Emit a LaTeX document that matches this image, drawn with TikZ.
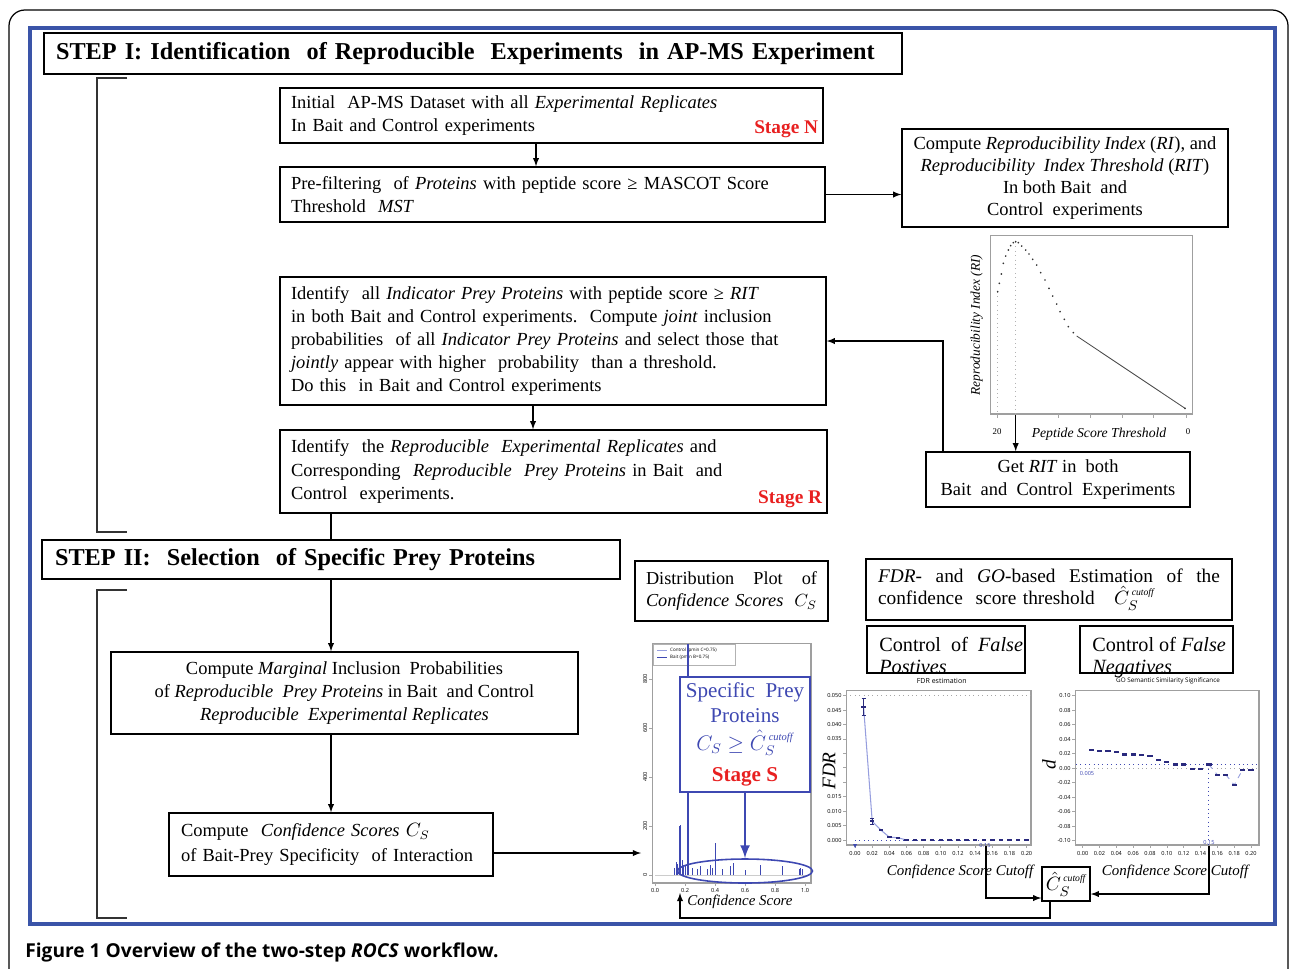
\documentclass[tikz,border=0pt]{standalone}
\usepackage{amsmath, amssymb}
\usepackage{fontspec}
\setmainfont{Liberation Serif}
\newfontfamily\capfont{Open Sans}
\usepackage{tikz}
\usetikzlibrary{arrows}
\usetikzlibrary{calc}
\usetikzlibrary{shapes.geometric}
\definecolor{framebl}{RGB}{58,84,168}
\definecolor{stagered}{RGB}{232,32,32}
\definecolor{plotbl}{RGB}{62,72,178}
\definecolor{markbl}{RGB}{42,42,125}
\definecolor{linebl}{RGB}{150,158,222}
\newcommand{\cscut}{\hat{C}_S^{\,\scriptscriptstyle\mathit{cutoff}}}
\newcommand{\ticksize}{\capfont\fontsize{3.2}{3.6}\selectfont}

\begin{document}
\begin{tikzpicture}[
    x=0.02cm, y=-0.02cm,
    box/.style={draw, line width=0.9pt, inner sep=0pt, font=\fontsize{10.5}{13.2}\selectfont},
    leftbox/.style={box, align=left, inner xsep=0.22cm},
    ctrbox/.style={box, align=center},
    stepbox/.style={draw, line width=1.3pt, inner sep=0pt, inner xsep=0.24cm, align=left, font=\fontsize{13.8}{16}\selectfont\bfseries},
    stage/.style={text=stagered, font=\fontsize{11}{13}\selectfont\bfseries, inner sep=3pt},
    conn/.style={->, >=latex, line width=0.6pt},
    plotframe/.style={draw=gray!75, line width=0.6pt, inner sep=0pt},
    bracket/.style={line width=0.7pt, black!80},
    tick/.style={inner sep=0.6pt, font=\ticksize},
    axlabel/.style={inner sep=0pt, font=\fontsize{8.5}{10}\selectfont\itshape},
    markfill/.style={markbl}
    ]

    \useasboundingbox (0,0) rectangle (1290,968);
    \clip (0,0) rectangle (1290,968);

    % frames
    \draw[line width=0.7pt, rounded corners=9pt] (9,1000) -- (9,10) -- (1288,10) -- (1288,1000);
    \draw[framebl, line width=2.2pt] (30,28) rectangle (1275,924);

    % helper coordinates for connectors
    \coordinate (xa) at (536,0);
    \coordinate (xb) at (533,0);
    \coordinate (xc) at (331,0);
    \coordinate (xri) at (1015.7,0);
    \coordinate (xgr) at (943,0);
    \coordinate (xfdr) at (986,0);
    \coordinate (xgo) at (1209,0);
    \coordinate (yfdr) at (0,898);
    \coordinate (ygo) at (0,894);
    \coordinate (xch) at (1050,0);
    \coordinate (ybot) at (0,918);
    \coordinate (xdist) at (680,0);
    \coordinate (distin) at (680,893);
    \coordinate (ycs) at (0,853);
    \coordinate (csend) at (641,853);

    % STEP I
    \node[stepbox, minimum width=17.16cm, minimum height=0.82cm, text width=16.68cm] (step1) at (473,53.5)
        {STEP I: Identification\ \ of Reproducible\ \ Experiments\ \ in AP-MS Experiment};
    \draw[bracket] (127,78) -- (97,78) -- (97,532) -- (127,532);

    \node[leftbox, minimum width=10.86cm, minimum height=1.1cm, text width=10.42cm] (n1) at (551.5,115.5)
        {Initial\ \ AP-MS Dataset with all \textit{Experimental Replicates}\\In Bait and Control experiments};
    \node[stage, anchor=south east] (stgn) at (n1.south east) {Stage N};

    \node[leftbox, minimum width=10.9cm, minimum height=1.1cm, text width=10.46cm] (n2) at (552.5,194.5)
        {Pre-filtering\ \ of \textit{Proteins} with peptide score ≥ MASCOT Score\\Threshold\ \ \textit{MST}};

    \node[ctrbox, minimum width=6.52cm, minimum height=1.96cm, font=\fontsize{10.5}{12.5}\selectfont] (ri) at (1065,178)
        {Compute \textit{Reproducibility Index} (\textit{RI}), and\\\textit{Reproducibility\ \ Index Threshold} (\textit{RIT})\\In both Bait\ \ and\\Control\ \ experiments};

    \node[leftbox, minimum width=10.92cm, minimum height=2.56cm, text width=10.48cm] (ind) at (553,341)
        {Identify\ \ all \textit{Indicator Prey Proteins} with peptide score ≥ \textit{RIT}\\in both Bait and Control experiments.\ \ Compute \textit{joint} inclusion\\probabilities\ \ of all \textit{Indicator Prey Proteins} and select those that\\\textit{jointly} appear with higher\ \ probability\ \ than a threshold.\\Do this\ \ in Bait and Control experiments};

    \node[leftbox, minimum width=10.94cm, minimum height=1.66cm, text width=10.5cm] (rep) at (553.5,471.5)
        {Identify\ \ the \textit{Reproducible\ \ Experimental Replicates} and\\Corresponding\ \ \textit{Reproducible\ \ Prey Proteins} in Bait\ \ and\\Control\ \ experiments.};
    \node[stage, anchor=south east] (stgr) at (rep.south east) {Stage R};

    \node[ctrbox, minimum width=5.28cm, minimum height=1.1cm] (getrit) at (1058,479.5)
        {Get \textit{RIT} in\ \ both\\Bait\ \ and\ \ Control\ \ Experiments};

    % RI plot
    \node[plotframe, minimum width=4.03cm, minimum height=3.58cm] (riplot) at (1091.35,324.5) {};
    \draw[gray!60, dotted, line width=0.5pt] (997.7,292) -- (997.7,414);
    \draw[gray!60, dotted, line width=0.5pt] (1015.7,242) -- (1015.7,414);
    \foreach \a in {997.7,1015.7,1058,1090,1122,1153,1186}
        \draw[gray!70, line width=0.4pt] (\a,414) -- (\a,418);
    \foreach \a/\b in {997.7/291.7, 999.3/283.3, 1001.3/274, 1003.3/263.3, 1005.7/256, 1008.3/250,
        1010.7/245.7, 1013.3/242.7, 1015.7/241.7, 1018.3/242.7, 1021.7/246, 1025.7/250, 1029/254,
        1032.7/259.3, 1036.7/265, 1040.7/272.7, 1045/280, 1049/288.3, 1052.7/296, 1056.7/304,
        1060/311.7, 1064.3/319.3, 1068.3/326.7, 1073.3/332.7, 1185/408.3}
        \fill[black!80] (\a,\b) circle[radius=0.55pt];
    \draw[black!70, line width=0.5pt] (1076.7,336) -- (1185,408.3);
    \node[rotate=90, font=\fontsize{7.6}{9}\selectfont\itshape, inner sep=0pt] (riy) at (976.7,325) {Reproducibility Index (RI)};
    \node[font=\fontsize{7.8}{9}\selectfont\itshape, inner sep=0pt] (rix) at (1099,434) {Peptide Score Threshold};
    \node[font=\fontsize{5}{6}\selectfont, inner sep=0pt] (ri20) at (997,432) {20};
    \node[font=\fontsize{5}{6}\selectfont, inner sep=0pt] (ri0) at (1188,432) {0};

    % STEP I connectors
    \draw[conn] (n1.south -| xa) -- (n2.north -| xa);
    \draw[conn] (n2.east) -- (n2.east -| ri.west);
    \draw[conn] (riplot.south -| xri) -- (getrit.north -| xri);
    \draw[conn] (getrit.north -| xgr) |- (ind.east);
    \draw[conn] (ind.south -| xb) -- (rep.north -| xb);

    % STEP II
    \node[stepbox, minimum width=11.56cm, minimum height=0.78cm, inner xsep=0.26cm, text width=11.04cm] (step2) at (331,559.5)
        {STEP II:\ \ Selection\ \ of Specific Prey Proteins};
    \draw[bracket] (127,590) -- (97,590) -- (97,918) -- (127,918);
    \draw[line width=0.6pt] (rep.south -| xc) -- (step2.north -| xc);

    \node[ctrbox, minimum width=9.34cm, minimum height=1.64cm] (marg) at (344.5,693)
        {Compute \textit{Marginal} Inclusion\ \ Probabilities\\of \textit{Reproducible\ \ Prey Proteins} in Bait\ \ and Control\\\textit{Reproducible\ \ Experimental Replicates}};

    \node[leftbox, minimum width=6.48cm, minimum height=1.26cm, inner xsep=0.24cm, text width=6cm, font=\fontsize{10.5}{14}\selectfont] (cs) at (331,844.5)
        {Compute\ \ \textit{Confidence Scores} $C_S$\\of Bait-Prey Specificity\ \ of Interaction};

    \draw[conn] (step2.south -| xc) -- (marg.north -| xc);
    \draw[conn] (marg.south -| xc) -- (cs.north -| xc);
    \draw[conn] (cs.east |- ycs) -- (csend);

    % distribution plot
    \node[leftbox, minimum width=3.86cm, minimum height=1.2cm, text width=3.42cm, font=\fontsize{10.4}{12.5}\selectfont] (dist) at (731.5,591)
        {Distribution\hfill Plot\hfill of\\\textit{Confidence Scores}\hfill $C_S$};
    \node[plotframe, minimum width=3.18cm, minimum height=4.8cm] (distplot) at (731.5,763) {};
    \draw[gray!40, line width=0.4pt] (655,875) -- (808,875);
    \draw[gray!60, line width=0.4pt] (653,644) rectangle (735,665);
    \draw[linebl, line width=0.5pt] (657,650) -- (667,650);
    \draw[plotbl, line width=0.5pt] (657,657) -- (667,657);
    \node[anchor=west, inner sep=0.5pt, font=\capfont\fontsize{2.6}{3}\selectfont] (legc) at (669,650) {Control (pmin C=0.75)};
    \node[anchor=west, inner sep=0.5pt, font=\capfont\fontsize{2.6}{3}\selectfont] (legb) at (669,657) {Bait (pmin B=0.75)};
    \foreach \v [count=\i] in {0,200,400,600,800} {
        \draw[gray!70, line width=0.4pt] (652,{875-\v*0.245}) -- (649,{875-\v*0.245});
        \node[tick, rotate=90] (dy\i) at (645,{875-\v*0.245}) {\v};
    }
    \foreach \v [count=\i] in {0.0,0.2,0.4,0.6,0.8,1.0} {
        \draw[gray!70, line width=0.4pt] ({655+150*\v},883) -- ({655+150*\v},886);
        \node[tick] (dx\i) at ({655+150*\v},890) {\v};
    }
    \foreach \v/\h in {0.13/30, 0.14/55, 0.15/45, 0.16/200, 0.17/205, 0.18/60, 0.19/40, 0.2/35,
        0.22/25, 0.25/30, 0.28/25, 0.3/35, 0.35/25, 0.37/40, 0.38/30, 0.4/130, 0.45/25,
        0.5/35, 0.52/50, 0.6/20, 0.7/40, 0.85/35, 0.96/25, 0.97/30, 0.98/25}
        \draw[plotbl, line width=0.5pt] ({655+150*\v},875) -- ++(0,{-\h*0.245});
    \draw[plotbl, line width=0.6pt] (688,644) -- (688,875);
    \node[axlabel] (distx) at (740,902) {Confidence Score};

    % stage S
    \node[draw=plotbl, line width=1.6pt, fill=white, minimum width=2.6cm, minimum height=2.3cm, inner sep=0pt,
        align=center, text=plotbl, font=\fontsize{12}{14}\selectfont] (sbox) at (745,734.5)
        {Specific\ \ Prey\\Proteins\\[2pt]$C_S \geq \cscut$\\[4pt]{\color{stagered}\bfseries Stage S}};
    \node[draw=plotbl, ellipse, line width=0.9pt, minimum width=2.7cm, minimum height=0.48cm, inner sep=0pt] (ell) at (745,871) {};
    \draw[->, >=latex, plotbl, line width=1.5pt] (sbox.south) -- (ell.north);

    % FDR and GO estimation
    \node[leftbox, minimum width=7.32cm, minimum height=1.22cm, inner xsep=0.24cm, text width=6.84cm, font=\fontsize{11}{12.5}\selectfont] (est) at (1049,589.5)
        {\textit{FDR}-\hfill and\hfill \textit{GO}-based\hfill Estimation\hfill of\hfill the\\confidence\ \ score threshold\quad $\cscut$};
    \node[box, minimum width=3.16cm, minimum height=0.94cm] (fp) at (946,649.5) {};
    \node[anchor=north west, inner sep=0pt, align=left, font=\fontsize{11.5}{12.5}\selectfont] (fptext) at (879,637)
        {Control\ \ of\ \ \textit{False}\\\textit{Postives}};
    \node[box, minimum width=3.06cm, minimum height=0.94cm] (fn) at (1156.5,649.5) {};
    \node[anchor=north west, inner sep=0pt, align=left, font=\fontsize{11.5}{12.5}\selectfont] (fntext) at (1092,637)
        {Control of \textit{False}\\\textit{Negatives}};

    % FDR plot
    \node[font=\capfont\fontsize{4}{5}\selectfont, inner sep=0pt] (fdrt) at (941.7,681) {FDR estimation};
    \node[plotframe, minimum width=3.7cm, minimum height=3.1cm] (fdrplot) at (938.5,767.5) {};
    \foreach \v in {0.020,0.025,0.030}
        \draw[gray!70, line width=0.4pt] (846,{840-2888*\v}) -- (843,{840-2888*\v});
    \foreach \v [count=\i] in {0.000,0.005,0.010,0.015,0.035,0.040,0.045,0.050} {
        \draw[gray!70, line width=0.4pt] (846,{840-2888*\v}) -- (843,{840-2888*\v});
        \node[tick, anchor=east] (fy\i) at (843,{840-2888*\v}) {\v};
    }
    \foreach \v [count=\i] in {0.00,0.02,0.04,0.06,0.08,0.10,0.12,0.14,0.16,0.18,0.20} {
        \draw[gray!70, line width=0.4pt] ({855+858*\v},845) -- ({855+858*\v},848);
        \node[tick] (fx\i) at ({855+858*\v},853) {\v};
    }
    \draw[gray!70, dotted, line width=0.5pt] (846,695.6) -- (1031,695.6);
    \draw[plotbl, dotted, line width=0.5pt] (855,840) -- (985,840);
    \draw[linebl, line width=0.6pt] (863.6,707.2) -- (872.2,821.2) -- (880.7,829.9) -- (889.3,837.1) -- (897.9,837.7) -- (906.5,840);
    \draw[markfill, line width=0.5pt] (863.6,698.5) -- (863.6,715.8) (861.6,698.5) -- (865.6,698.5) (861.6,715.8) -- (865.6,715.8);
    \draw[markfill, line width=0.5pt] (872.2,818.3) -- (872.2,824.1) (870.2,818.3) -- (874.2,818.3) (870.2,824.1) -- (874.2,824.1);
    \fill[plotbl] (853,844) -- (857,844) -- (855,848) -- cycle;
    \foreach \v/\d in {0.01/0.046, 0.02/0.0065, 0.03/0.0035, 0.04/0.001, 0.05/0.0008, 0.06/0, 0.07/0,
        0.08/0, 0.09/0, 0.10/0, 0.11/0, 0.12/0, 0.13/0, 0.14/0, 0.15/0, 0.16/0, 0.17/0, 0.18/0, 0.19/0, 0.20/0}
        \fill[markfill] ({855+858*\v-2.2},{840-2888*\d-1.2}) rectangle ++(4.4,2.4);
    \node[tick, text=plotbl] (f015) at (985,845) {0.15};
    \node[rotate=90, font=\fontsize{11}{12}\selectfont\itshape, inner sep=0pt] (fdry) at (829,771) {FDR};
    \node[axlabel] (fdrx) at (960,872) {Confidence Score Cutoff};

    % GO plot
    \node[font=\capfont\fontsize{3.6}{4.5}\selectfont, inner sep=0pt] (got) at (1168,681) {GO Semantic Similarity Significance};
    \node[plotframe, minimum width=3.68cm, minimum height=3.1cm] (goplot) at (1167,767.5) {};
    \foreach \v [count=\i] in {-0.10,-0.08,-0.06,-0.04,-0.02,0.00,0.02,0.04,0.06,0.08,0.10} {
        \draw[gray!70, line width=0.4pt] (1075,{768.2-725*\v}) -- (1072,{768.2-725*\v});
        \node[tick, anchor=east] (gy\i) at (1072,{768.2-725*\v}) {\v};
    }
    \foreach \v [count=\i] in {0.00,0.02,0.04,0.06,0.08,0.10,0.12,0.14,0.16,0.18,0.20} {
        \draw[gray!70, line width=0.4pt] ({1082.7+841.5*\v},845) -- ({1082.7+841.5*\v},848);
        \node[tick] (gx\i) at ({1082.7+841.5*\v},853) {\v};
    }
    \draw[gray!70, dotted, line width=0.5pt] (1076,768.2) -- (1258,768.2);
    \draw[plotbl, dotted, line width=0.5pt] (1076,764.6) -- (1258,764.6);
    \draw[plotbl, dotted, line width=0.5pt] (1208.9,764.6) -- (1208.9,845);
    \draw[linebl, dashed, line width=0.5pt] (1208.9,764.6) -- (1217.3,774.7);
    \draw[linebl, dashed, line width=0.5pt] (1225.8,774.7) -- (1234.2,784.9) -- (1242.6,769.7);
    \foreach \v/\d in {0.01/0.025, 0.02/0.024, 0.03/0.024, 0.04/0.022, 0.05/0.019, 0.06/0.019, 0.07/0.018,
        0.08/0.017, 0.09/0.011, 0.10/0.009, 0.11/0.005, 0.12/0.005, 0.13/-0.001, 0.14/-0.001, 0.15/0.005,
        0.16/-0.009, 0.17/-0.009, 0.18/-0.023, 0.19/-0.002, 0.20/-0.002}
        \fill[markfill] ({1082.7+841.5*\v-2.6},{768.2-725*\d-1.1}) rectangle ++(5.2,2.2);
    \node[tick, text=plotbl] (g005) at (1087,773) {0.005};
    \node[tick, text=plotbl] (g015) at (1209,842) {0.15};
    \node[rotate=90, font=\fontsize{11}{12}\selectfont\itshape, inner sep=0pt] (goy) at (1049,765) {d};
    \node[axlabel] (gox) at (1175,872) {Confidence Score Cutoff};

    % cutoff
    \node[box, minimum width=0.96cm, minimum height=0.68cm, font=\fontsize{11}{12}\selectfont] (chat) at (1066,884) {$\cscut$};
    \draw[conn] (fdrplot.south -| xfdr) |- (chat.west |- yfdr);
    \draw[conn] (goplot.south -| xgo) |- (chat.east |- ygo);
    \draw[conn] (chat.south -| xch) |- (ybot -| xdist) -- (distin);

    % caption
    \node[anchor=west, inner sep=0pt, font=\capfont\fontsize{10.9}{12}\selectfont\bfseries] (caption) at (25,952)
        {Figure 1 Overview of the two-step \textit{ROCS} workflow.};
\end{tikzpicture}
\end{document}
